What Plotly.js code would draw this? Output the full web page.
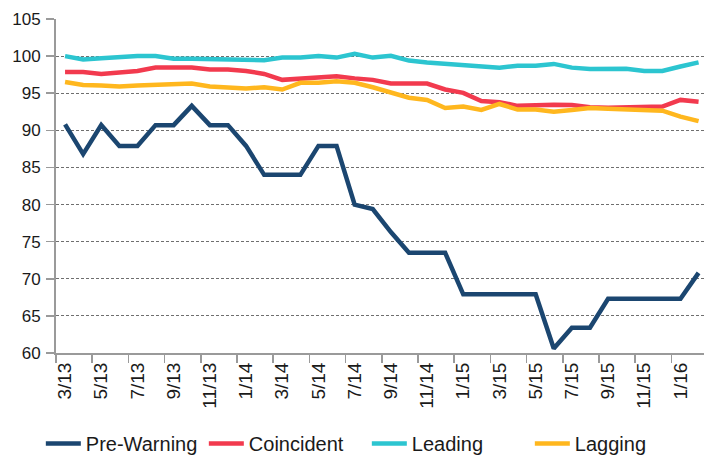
<!DOCTYPE html>
<html>
<head>
<meta charset="utf-8">
<script src="https://cdn.plot.ly/plotly-3.0.1.min.js"></script>
<style>html,body{margin:0;padding:0;background:#fff;}#chart{width:704px;height:457px;}</style>
</head>
<body>
<div id="chart"></div>
<script>
const months = ["3/13","4/13","5/13","6/13","7/13","8/13","9/13","10/13","11/13","12/13",
  "1/14","2/14","3/14","4/14","5/14","6/14","7/14","8/14","9/14","10/14","11/14","12/14",
  "1/15","2/15","3/15","4/15","5/15","6/15","7/15","8/15","9/15","10/15","11/15","12/15",
  "1/16","2/16"];
const preWarning = [90.8,86.8,90.7,87.9,87.9,90.7,90.7,93.3,90.7,90.7,
  87.9,84.0,84.0,84.0,87.9,87.9,80.0,79.4,76.3,73.5,73.5,73.5,
  67.9,67.9,67.9,67.9,67.9,60.6,63.4,63.4,67.3,67.3,67.3,67.3,67.3,70.8];
const coincident = [97.85,97.85,97.6,97.75,98.0,98.45,98.5,98.45,98.2,98.2,
  98.0,97.6,96.8,96.95,97.1,97.3,97.0,96.8,96.3,96.3,96.3,95.5,
  95.05,93.95,93.8,93.3,93.4,93.45,93.4,93.1,93.05,93.05,93.2,93.2,94.1,93.85];
const leading = [100.0,99.55,99.7,99.9,100.0,100.0,99.65,99.65,99.6,99.5,
  99.45,99.45,99.8,99.8,100.0,99.8,100.3,99.8,100.05,99.4,99.15,98.95,
  98.9,98.7,98.45,98.7,98.7,98.95,98.45,98.25,98.25,98.3,98.0,98.0,98.6,99.15];
const lagging = [96.5,96.1,96.05,95.9,96.05,96.1,96.3,96.3,95.9,95.85,
  95.65,95.8,95.5,96.4,96.4,96.6,96.4,95.8,95.1,94.4,94.1,93.0,
  93.2,92.75,93.55,92.8,92.8,92.5,92.75,93.0,92.9,92.8,92.65,92.65,91.85,91.25];
const yTicks = [60,65,70,75,80,85,90,95,100,105];

const series = [
  {name:"Pre-Warning", y:preWarning, color:"#1b4670"},
  {name:"Coincident", y:coincident, color:"#f23a4e"},
  {name:"Leading", y:leading, color:"#2cc5d0"},
  {name:"Lagging", y:lagging, color:"#ffb71e"}
];
const traces = series.map((s, i) => ({
  type:"scatter", mode:"lines", name:s.name, x:months, y:s.y,
  line:{color:s.color, width:4.5}
}));
const font = "Liberation Sans, Arial, sans-serif";
const layout = {
  width:704, height:457,
  margin:{l:56, r:0, t:19, b:104},
  paper_bgcolor:"#fff", plot_bgcolor:"#fff",
  font:{family:font, color:"#1a1a1a", size:17},
  showlegend:true,
  legend:{orientation:"h", xref:"container", x:0.058, xanchor:"left", yref:"container", y:0.072, yanchor:"top",
    font:{size:20, family:font, color:"#1a1a1a"}, itemwidth:35, entrywidth:113, entrywidthmode:"pixels"},
  xaxis:{type:"category", range:[-0.5,35.3], tickson:"boundaries", dtick:2, tickangle:-90,
    ticks:"outside", ticklen:8, tickcolor:"#9a9a9a", tickwidth:1.5,
    showline:true, linecolor:"#9a9a9a", linewidth:2, showgrid:false, zeroline:false,
    tickfont:{size:19, family:font, color:"#1a1a1a"}, fixedrange:true},
  yaxis:{range:[60,105], tickvals:yTicks, ticktext:yTicks.map(String),
    ticks:"outside", ticklen:8, tickcolor:"#9a9a9a", tickwidth:1.5,
    showline:true, linecolor:"#9a9a9a", linewidth:2,
    showgrid:true, gridcolor:"#6f6f6f", gridwidth:1, griddash:"3px,2px", zeroline:false,
    tickfont:{size:17, family:font, color:"#1a1a1a"}, ticklabelstandoff:2, fixedrange:true}
};
Plotly.newPlot("chart", traces, layout, {staticPlot:true, displayModeBar:false});
</script>
</body>
</html>
